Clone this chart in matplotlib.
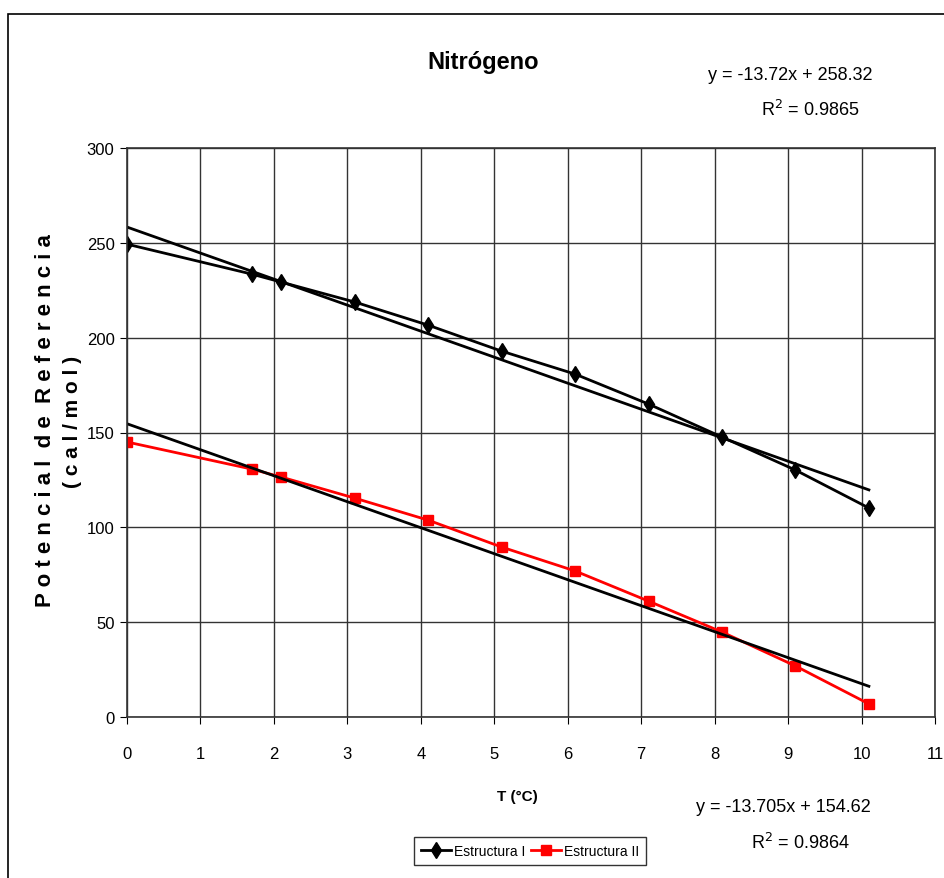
# Nitrogeno chart: reference potential vs temperature, two structures + linear trends
import matplotlib.pyplot as plt
import matplotlib.patches as mpatches

plt.rcParams['font.family'] = ['Liberation Sans Narrow', 'Liberation Sans', 'DejaVu Sans']

# data
temp = [0, 1.7, 2.1, 3.1, 4.1, 5.1, 6.1, 7.1, 8.1, 9.1, 10.1]
estructura_1 = [249.3, 233.5, 229.3, 218.8, 206.6, 192.9, 180.8, 165.0, 147.6, 130.2, 110.2]
estructura_2 = [145.0, 130.7, 126.5, 115.4, 103.8, 89.6, 77.0, 61.1, 44.8, 26.9, 6.9]

# trend line coefficients as printed on the chart
slope_1, icpt_1 = -13.72, 258.32
slope_2, icpt_2 = -13.705, 154.62
trend_x = [0, 10.1]

fig = plt.figure(figsize=(9.44, 8.79), dpi=100)
ax = fig.add_axes([127 / 944, 1 - 718 / 879, (935 - 127) / 944, (718 - 149) / 879])

# border around the whole chart area
fig.patches.append(mpatches.Rectangle((8 / 944, -0.05), 1.1, 1 - 15 / 879 + 0.05,
                                      transform=fig.transFigure, fill=False,
                                      edgecolor='black', linewidth=1.2))

ax.plot(temp, estructura_1, color='black', marker='d', markersize=8.5, linewidth=2,
        label='Estructura I')
ax.plot(temp, estructura_2, color='red', marker='s', markersize=7, linewidth=2,
        label='Estructura II')
ax.plot(trend_x, [slope_1 * x + icpt_1 for x in trend_x], color='black', linewidth=2)
ax.plot(trend_x, [slope_2 * x + icpt_2 for x in trend_x], color='black', linewidth=2)

ax.set_xlim(0, 11)
ax.set_ylim(0, 300)
ax.set_xticks(range(0, 12))
ax.set_yticks(range(0, 301, 50))
ax.grid(True, color='#333333', linewidth=1)
ax.set_axisbelow(True)
ax.tick_params(labelsize=12, length=5, direction='out')
ax.tick_params(axis='x', pad=16)
ax.tick_params(axis='y', pad=4)
for s in ax.spines.values():
    s.set_color('#333333')
    s.set_linewidth(1.2)

fig.text(483 / 944, 1 - 62 / 879, 'Nitrógeno', fontsize=17, fontweight='bold',
         ha='center', va='center')
fig.text(517 / 944, 1 - 797 / 879, 'T (°C)', fontsize=11, fontweight='bold',
         ha='center', va='center')
fig.text(46 / 944, 1 - 421 / 879, 'P o t e n c i a l  d e  R e f e r e n c i a',
         fontsize=16, fontweight='bold', rotation=90, ha='center', va='center')
fig.text(72 / 944, 1 - 422 / 879, '( c a l / m o l )',
         fontsize=15, fontweight='bold', rotation=90, ha='center', va='center')

fig.text(790 / 944, 1 - 75 / 879, 'y = -13.72x + 258.32', fontsize=13,
         ha='center', va='center')
fig.text(810 / 944, 1 - 110 / 879, 'R$^2$ = 0.9865', fontsize=13,
         ha='center', va='center')
fig.text(783 / 944, 1 - 808 / 879, 'y = -13.705x + 154.62', fontsize=13,
         ha='center', va='center')
fig.text(800 / 944, 1 - 843 / 879, 'R$^2$ = 0.9864', fontsize=13,
         ha='center', va='center')

leg = fig.legend(loc='upper center', bbox_to_anchor=(530 / 944, 1 - 838 / 879),
                 ncol=2, fontsize=10, frameon=True, fancybox=False,
                 handlelength=2.2, handletextpad=0.2, columnspacing=0.4,
                 borderpad=0.5, borderaxespad=0)
leg.get_frame().set_edgecolor('black')
leg.get_frame().set_linewidth(1)

fig.savefig('out.png', dpi=100)
